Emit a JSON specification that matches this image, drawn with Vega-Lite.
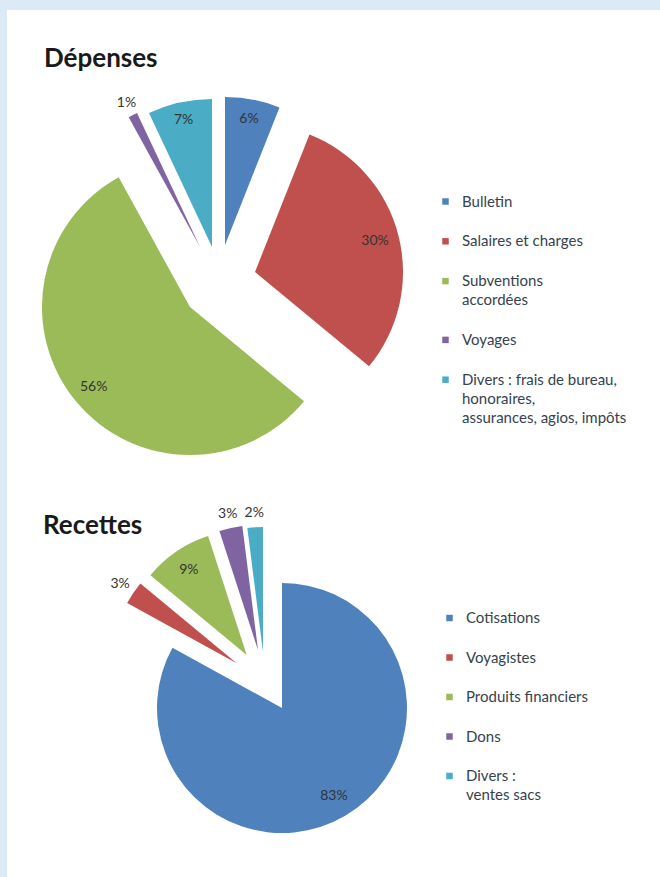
{
  "$schema": "https://vega.github.io/schema/vega-lite/v6.json",
  "background": "#dce9f6",
  "padding": {"left": 7, "top": 10, "right": 0, "bottom": 0},
  "spacing": 0,
  "config": {
    "view": {"fill": "#ffffff", "stroke": "transparent", "strokeWidth": 0},
    "style": {"guide-label": {"lineHeight": 19}}
  },
  "resolve": {"scale": {"color": "independent", "theta": "independent"}, "legend": {"color": "independent"}},
  "vconcat": [
    {
      "width": 653,
      "height": 450,
      "view": {"fill": "#ffffff", "stroke": "transparent", "strokeWidth": 0},
      "title": {"text": "Dépenses", "anchor": "start", "frame": "group", "dx": 37, "offset": -83, "baseline": "alphabetic", "font": "Lato", "fontSize": 26, "fontWeight": "bold", "color": "#1a1a1a"},
      "data": {"values": [
        {"serie": "Bulletin", "ordre": 1, "part": 0.06},
        {"serie": "Salaires et charges", "ordre": 2, "part": 0.30},
        {"serie": "Subventions|accordées", "ordre": 3, "part": 0.56},
        {"serie": "Voyages", "ordre": 4, "part": 0.01},
        {"serie": "Divers : frais de bureau,|honoraires,|assurances, agios, impôts", "ordre": 5, "part": 0.07}
      ]},
      "encoding": {
        "theta": {"field": "part", "type": "quantitative", "stack": true},
        "order": {"field": "ordre", "type": "quantitative"},
        "color": {"field": "serie", "type": "nominal", "scale": {"domain": ["Bulletin", "Salaires et charges", "Subventions|accordées", "Voyages", "Divers : frais de bureau,|honoraires,|assurances, agios, impôts"], "range": ["#4F81BD", "#C0504D", "#9BBB59", "#8064A2", "#4BACC6"]},
          "legend": {"orient": "none", "direction": "vertical", "legendX": 431, "legendY": 184, "title": null, "symbolType": "square", "symbolSize": 42, "labelFont": "Lato", "labelFontSize": 15, "labelColor": "#36424e", "labelOffset": 9, "rowPadding": 23.8, "labelLimit": 300, "padding": 0, "labelExpr": "split(datum.label, '|')"}}
      },
      "layer": [
        {"mark": {"type": "arc", "radius": 148, "xOffset": -108.5, "yOffset": 10}, "encoding": {"opacity": {"condition": {"test": "datum.ordre === 1", "value": 1}, "value": 0}}},
        {"mark": {"type": "arc", "radius": 148, "xOffset": -78.5, "yOffset": 37}, "encoding": {"opacity": {"condition": {"test": "datum.ordre === 2", "value": 1}, "value": 0}}},
        {"mark": {"type": "arc", "radius": 148, "xOffset": -143.5, "yOffset": 72}, "encoding": {"opacity": {"condition": {"test": "datum.ordre === 3", "value": 1}, "value": 0}}},
        {"mark": {"type": "arc", "radius": 148, "xOffset": -133.5, "yOffset": 12}, "encoding": {"opacity": {"condition": {"test": "datum.ordre === 4", "value": 1}, "value": 0}}},
        {"mark": {"type": "arc", "radius": 148, "xOffset": -121.5, "yOffset": 12}, "encoding": {"opacity": {"condition": {"test": "datum.ordre === 5", "value": 1}, "value": 0}}},
        {"mark": {"type": "text", "radius": 128, "xOffset": -108.5, "yOffset": 10, "font": "Lato", "fontSize": 14}, "encoding": {"color": {"value": "#333333"}, "text": {"field": "part", "type": "quantitative", "format": ".0%"}, "opacity": {"condition": {"test": "datum.ordre === 1", "value": 1}, "value": 0}}},
        {"mark": {"type": "text", "radius": 124, "xOffset": -78.5, "yOffset": 37, "font": "Lato", "fontSize": 14}, "encoding": {"color": {"value": "#333333"}, "text": {"field": "part", "type": "quantitative", "format": ".0%"}, "opacity": {"condition": {"test": "datum.ordre === 2", "value": 1}, "value": 0}}},
        {"mark": {"type": "text", "radius": 125, "xOffset": -143.5, "yOffset": 72, "font": "Lato", "fontSize": 14}, "encoding": {"color": {"value": "#333333"}, "text": {"field": "part", "type": "quantitative", "format": ".0%"}, "opacity": {"condition": {"test": "datum.ordre === 3", "value": 1}, "value": 0}}},
        {"mark": {"type": "text", "radius": 162, "xOffset": -133.5, "yOffset": 12, "font": "Lato", "fontSize": 14}, "encoding": {"color": {"value": "#333333"}, "text": {"field": "part", "type": "quantitative", "format": ".0%"}, "opacity": {"condition": {"test": "datum.ordre === 4", "value": 1}, "value": 0}}},
        {"mark": {"type": "text", "radius": 130, "xOffset": -121.5, "yOffset": 12, "font": "Lato", "fontSize": 14}, "encoding": {"color": {"value": "#333333"}, "text": {"field": "part", "type": "quantitative", "format": ".0%"}, "opacity": {"condition": {"test": "datum.ordre === 5", "value": 1}, "value": 0}}}
      ]
    },
    {
      "width": 653,
      "height": 417,
      "view": {"fill": "#ffffff", "stroke": "transparent", "strokeWidth": 0},
      "title": {"text": "Recettes", "anchor": "start", "frame": "group", "dx": 36, "offset": -100, "baseline": "alphabetic", "font": "Lato", "fontSize": 26, "fontWeight": "bold", "color": "#1a1a1a"},
      "data": {"values": [
        {"serie": "Cotisations", "ordre": 1, "part": 0.83},
        {"serie": "Voyagistes", "ordre": 2, "part": 0.03},
        {"serie": "Produits financiers", "ordre": 3, "part": 0.09},
        {"serie": "Dons", "ordre": 4, "part": 0.03},
        {"serie": "Divers :|ventes sacs", "ordre": 5, "part": 0.02}
      ]},
      "encoding": {
        "theta": {"field": "part", "type": "quantitative", "stack": true},
        "order": {"field": "ordre", "type": "quantitative"},
        "color": {"field": "serie", "type": "nominal", "scale": {"domain": ["Cotisations", "Voyagistes", "Produits financiers", "Dons", "Divers :|ventes sacs"], "range": ["#4F81BD", "#C0504D", "#9BBB59", "#8064A2", "#4BACC6"]},
          "legend": {"orient": "none", "direction": "vertical", "legendX": 435, "legendY": 150.5, "title": null, "symbolType": "square", "symbolSize": 42, "labelFont": "Lato", "labelFontSize": 15, "labelColor": "#36424e", "labelOffset": 9, "rowPadding": 23.5, "labelLimit": 300, "padding": 0, "labelExpr": "split(datum.label, '|')"}}
      },
      "layer": [
        {"mark": {"type": "arc", "radius": 125, "xOffset": -51.5, "yOffset": 39.5}, "encoding": {"opacity": {"condition": {"test": "datum.ordre === 1", "value": 1}, "value": 0}}},
        {"mark": {"type": "arc", "radius": 125, "xOffset": -96.8, "yOffset": -5.2}, "encoding": {"opacity": {"condition": {"test": "datum.ordre === 2", "value": 1}, "value": 0}}},
        {"mark": {"type": "arc", "radius": 125, "xOffset": -86.8, "yOffset": -13.5}, "encoding": {"opacity": {"condition": {"test": "datum.ordre === 3", "value": 1}, "value": 0}}},
        {"mark": {"type": "arc", "radius": 125, "xOffset": -75.5, "yOffset": -18.5}, "encoding": {"opacity": {"condition": {"test": "datum.ordre === 4", "value": 1}, "value": 0}}},
        {"mark": {"type": "arc", "radius": 125, "xOffset": -70.5, "yOffset": -16.5}, "encoding": {"opacity": {"condition": {"test": "datum.ordre === 5", "value": 1}, "value": 0}}},
        {"mark": {"type": "text", "radius": 102, "xOffset": -51.5, "yOffset": 39.5, "font": "Lato", "fontSize": 14}, "encoding": {"color": {"value": "#333333"}, "text": {"field": "part", "type": "quantitative", "format": ".0%"}, "opacity": {"condition": {"test": "datum.ordre === 1", "value": 1}, "value": 0}}},
        {"mark": {"type": "text", "radius": 141, "xOffset": -96.8, "yOffset": -5.2, "font": "Lato", "fontSize": 14}, "encoding": {"color": {"value": "#333333"}, "text": {"field": "part", "type": "quantitative", "format": ".0%"}, "opacity": {"condition": {"test": "datum.ordre === 2", "value": 1}, "value": 0}}},
        {"mark": {"type": "text", "radius": 103, "xOffset": -86.8, "yOffset": -13.5, "font": "Lato", "fontSize": 14}, "encoding": {"color": {"value": "#333333"}, "text": {"field": "part", "type": "quantitative", "format": ".0%"}, "opacity": {"condition": {"test": "datum.ordre === 3", "value": 1}, "value": 0}}},
        {"mark": {"type": "text", "radius": 139, "xOffset": -75.5, "yOffset": -18.5, "font": "Lato", "fontSize": 14}, "encoding": {"color": {"value": "#333333"}, "text": {"field": "part", "type": "quantitative", "format": ".0%"}, "opacity": {"condition": {"test": "datum.ordre === 4", "value": 1}, "value": 0}}},
        {"mark": {"type": "text", "radius": 139, "xOffset": -70.5, "yOffset": -16.5, "font": "Lato", "fontSize": 14}, "encoding": {"color": {"value": "#333333"}, "text": {"field": "part", "type": "quantitative", "format": ".0%"}, "opacity": {"condition": {"test": "datum.ordre === 5", "value": 1}, "value": 0}}}
      ]
    }
  ]
}
